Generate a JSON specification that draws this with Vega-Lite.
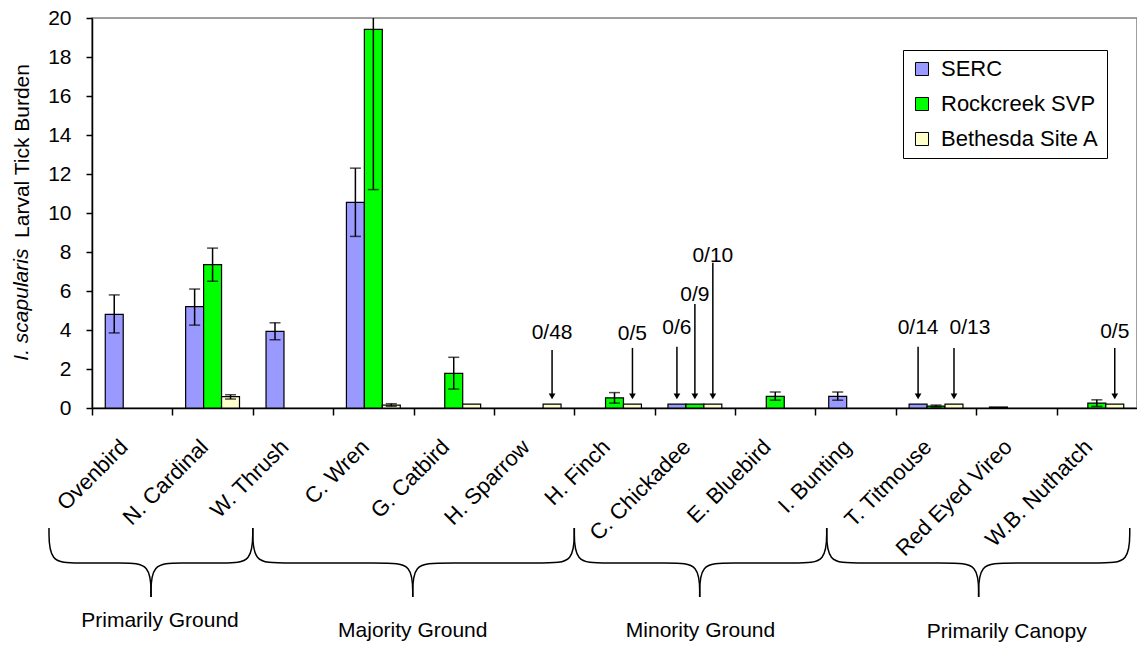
{
  "$schema": "https://vega.github.io/schema/vega-lite/v6.json",
  "width": 1045,
  "height": 390,
  "autosize": {"type": "none"},
  "padding": {"left": 92, "top": 18, "right": 0, "bottom": 238},
  "background": "white",
  "config": {
    "font": "Liberation Sans",
    "view": {"stroke": "#808080", "strokeWidth": 1.5},
    "axis": {"grid": false, "domainColor": "black", "tickColor": "black", "labelColor": "black", "titleColor": "black", "titleFontWeight": "normal", "domainWidth": 1.5, "tickWidth": 1.5, "labelOverlap": false}
  },
  "datasets": {
    "birds": [
      {"species": "Ovenbird", "site": "SERC", "value": 4.8, "lo": 3.85, "hi": 5.8},
      {"species": "N. Cardinal", "site": "SERC", "value": 5.2, "lo": 4.25, "hi": 6.1},
      {"species": "N. Cardinal", "site": "Rockcreek SVP", "value": 7.35, "lo": 6.5, "hi": 8.2},
      {"species": "N. Cardinal", "site": "Bethesda Site A", "value": 0.58, "lo": 0.46, "hi": 0.68},
      {"species": "W. Thrush", "site": "SERC", "value": 3.93, "lo": 3.5, "hi": 4.37},
      {"species": "C. Wren", "site": "SERC", "value": 10.55, "lo": 8.8, "hi": 12.3},
      {"species": "C. Wren", "site": "Rockcreek SVP", "value": 19.42, "lo": 11.2, "hi": 27.6},
      {"species": "C. Wren", "site": "Bethesda Site A", "value": 0.15, "lo": 0.09, "hi": 0.22},
      {"species": "G. Catbird", "site": "Rockcreek SVP", "value": 1.78, "lo": 0.97, "hi": 2.6},
      {"species": "G. Catbird", "site": "Bethesda Site A", "value": 0.2, "lo": null, "hi": null},
      {"species": "H. Sparrow", "site": "Bethesda Site A", "value": 0.2, "lo": null, "hi": null},
      {"species": "H. Finch", "site": "Rockcreek SVP", "value": 0.52, "lo": 0.25, "hi": 0.79},
      {"species": "H. Finch", "site": "Bethesda Site A", "value": 0.2, "lo": null, "hi": null},
      {"species": "C. Chickadee", "site": "SERC", "value": 0.2, "lo": null, "hi": null},
      {"species": "C. Chickadee", "site": "Rockcreek SVP", "value": 0.2, "lo": null, "hi": null},
      {"species": "C. Chickadee", "site": "Bethesda Site A", "value": 0.2, "lo": null, "hi": null},
      {"species": "E. Bluebird", "site": "Rockcreek SVP", "value": 0.6, "lo": 0.4, "hi": 0.82},
      {"species": "I. Bunting", "site": "SERC", "value": 0.6, "lo": 0.4, "hi": 0.82},
      {"species": "T. Titmouse", "site": "SERC", "value": 0.2, "lo": null, "hi": null},
      {"species": "T. Titmouse", "site": "Rockcreek SVP", "value": 0.1, "lo": 0.05, "hi": 0.15},
      {"species": "T. Titmouse", "site": "Bethesda Site A", "value": 0.2, "lo": null, "hi": null},
      {"species": "Red Eyed Vireo", "site": "SERC", "value": 0.05, "lo": null, "hi": null},
      {"species": "W.B. Nuthatch", "site": "Rockcreek SVP", "value": 0.25, "lo": 0.08, "hi": 0.42},
      {"species": "W.B. Nuthatch", "site": "Bethesda Site A", "value": 0.2, "lo": null, "hi": null}
    ],
    "notes": [
      {"species": "H. Sparrow", "site": "Bethesda Site A", "label": "0/48", "top": 2.97, "ty": 3.85},
      {"species": "H. Finch", "site": "Bethesda Site A", "label": "0/5", "top": 3.08, "ty": 3.8},
      {"species": "C. Chickadee", "site": "SERC", "label": "0/6", "top": 3.14, "ty": 4.1},
      {"species": "C. Chickadee", "site": "Rockcreek SVP", "label": "0/9", "top": 5.33, "ty": 5.8},
      {"species": "C. Chickadee", "site": "Bethesda Site A", "label": "0/10", "top": 7.45, "ty": 7.8},
      {"species": "T. Titmouse", "site": "SERC", "label": "0/14", "top": 3.14, "ty": 4.1},
      {"species": "T. Titmouse", "site": "Bethesda Site A", "label": "0/13", "top": 3.08, "ty": 4.1},
      {"species": "W.B. Nuthatch", "site": "Bethesda Site A", "label": "0/5 ", "top": 3.08, "ty": 3.9}
    ],
    "braces": [
      {"part": "b1L", "i": 0, "bx": -0.535, "by": -6.15},
      {"part": "b1L", "i": 1, "bx": -0.535, "by": -7.95},
      {"part": "b1L", "i": 2, "bx": -0.185, "by": -7.95},
      {"part": "b1L", "i": 3, "bx": 0.384, "by": -7.95},
      {"part": "b1L", "i": 4, "bx": 0.734, "by": -7.95},
      {"part": "b1L", "i": 5, "bx": 0.734, "by": -9.69},
      {"part": "b1R", "i": 0, "bx": 2.0, "by": -6.15},
      {"part": "b1R", "i": 1, "bx": 2.0, "by": -7.95},
      {"part": "b1R", "i": 2, "bx": 1.65, "by": -7.95},
      {"part": "b1R", "i": 3, "bx": 1.084, "by": -7.95},
      {"part": "b1R", "i": 4, "bx": 0.734, "by": -7.95},
      {"part": "b1R", "i": 5, "bx": 0.734, "by": -9.69},
      {"part": "b2L", "i": 0, "bx": 2.0, "by": -6.15},
      {"part": "b2L", "i": 1, "bx": 2.0, "by": -7.95},
      {"part": "b2L", "i": 2, "bx": 2.35, "by": -7.95},
      {"part": "b2L", "i": 3, "bx": 3.64, "by": -7.95},
      {"part": "b2L", "i": 4, "bx": 3.99, "by": -7.95},
      {"part": "b2L", "i": 5, "bx": 3.99, "by": -9.69},
      {"part": "b2R", "i": 0, "bx": 6.0, "by": -6.15},
      {"part": "b2R", "i": 1, "bx": 6.0, "by": -7.95},
      {"part": "b2R", "i": 2, "bx": 5.65, "by": -7.95},
      {"part": "b2R", "i": 3, "bx": 4.34, "by": -7.95},
      {"part": "b2R", "i": 4, "bx": 3.99, "by": -7.95},
      {"part": "b2R", "i": 5, "bx": 3.99, "by": -9.69},
      {"part": "b3L", "i": 0, "bx": 6.0, "by": -6.15},
      {"part": "b3L", "i": 1, "bx": 6.0, "by": -7.95},
      {"part": "b3L", "i": 2, "bx": 6.35, "by": -7.95},
      {"part": "b3L", "i": 3, "bx": 7.21, "by": -7.95},
      {"part": "b3L", "i": 4, "bx": 7.56, "by": -7.95},
      {"part": "b3L", "i": 5, "bx": 7.56, "by": -9.69},
      {"part": "b3R", "i": 0, "bx": 9.14, "by": -6.15},
      {"part": "b3R", "i": 1, "bx": 9.14, "by": -7.95},
      {"part": "b3R", "i": 2, "bx": 8.79, "by": -7.95},
      {"part": "b3R", "i": 3, "bx": 7.91, "by": -7.95},
      {"part": "b3R", "i": 4, "bx": 7.56, "by": -7.95},
      {"part": "b3R", "i": 5, "bx": 7.56, "by": -9.69},
      {"part": "b4L", "i": 0, "bx": 9.14, "by": -6.15},
      {"part": "b4L", "i": 1, "bx": 9.14, "by": -7.95},
      {"part": "b4L", "i": 2, "bx": 9.49, "by": -7.95},
      {"part": "b4L", "i": 3, "bx": 10.68, "by": -7.95},
      {"part": "b4L", "i": 4, "bx": 11.03, "by": -7.95},
      {"part": "b4L", "i": 5, "bx": 11.03, "by": -9.69},
      {"part": "b4R", "i": 0, "bx": 12.91, "by": -6.15},
      {"part": "b4R", "i": 1, "bx": 12.91, "by": -7.95},
      {"part": "b4R", "i": 2, "bx": 12.56, "by": -7.95},
      {"part": "b4R", "i": 3, "bx": 11.38, "by": -7.95},
      {"part": "b4R", "i": 4, "bx": 11.03, "by": -7.95},
      {"part": "b4R", "i": 5, "bx": 11.03, "by": -9.69}
    ],
    "groups": [
      {"group": "Primarily Ground", "gx": 0.846, "gy": -10.92},
      {"group": "Majority Ground", "gx": 3.99, "gy": -11.44},
      {"group": "Minority Ground", "gx": 7.57, "gy": -11.44},
      {"group": "Primarily Canopy", "gx": 11.38, "gy": -11.49}
    ],
    "ytitle": [
      {"t": "I. scapularis", "tx": -0.871, "ty": 5.3}
    ]
  },
  "layer": [
    {
      "layer": [
        {
          "data": {"name": "birds"},
          "mark": {"type": "bar", "stroke": "black", "strokeWidth": 1.2},
          "encoding": {
            "x": {
              "field": "species", "type": "nominal",
              "scale": {"domain": ["Ovenbird", "N. Cardinal", "W. Thrush", "C. Wren", "G. Catbird", "H. Sparrow", "H. Finch", "C. Chickadee", "E. Bluebird", "I. Bunting", "T. Titmouse", "Red Eyed Vireo", "W.B. Nuthatch"], "paddingInner": 0.33, "paddingOuter": 0.165},
              "axis": {"title": null, "labelAngle": -45, "labelAlign": "right", "labelBaseline": "middle", "labelFontSize": 22, "ticks": false, "labelPadding": 35, "labelOffset": -8, "labelOverlap": false, "labelBound": false}
            },
            "xOffset": {"field": "site", "type": "nominal", "scale": {"domain": ["SERC", "Rockcreek SVP", "Bethesda Site A"]}},
            "y": {
              "field": "value", "type": "quantitative",
              "scale": {"domain": [0, 20]},
              "axis": {"values": [0, 2, 4, 6, 8, 10, 12, 14, 16, 18, 20], "tickCount": 30, "format": "d", "labelOverlap": false, "title": "Larval Tick Burden", "titleFontSize": 21, "titleX": -70, "titleY": 132.5, "titleAngle": 270, "titleAlign": "center", "titleBaseline": "middle", "labelFontSize": 21, "tickSize": 6, "labelPadding": 15}
            },
            "color": {
              "field": "site", "type": "nominal",
              "scale": {"domain": ["SERC", "Rockcreek SVP", "Bethesda Site A"], "range": ["#9999FF", "#00FF00", "#FFFFCC"]},
              "legend": {"title": null, "orient": "none", "legendX": 811, "legendY": 32, "fillColor": "white", "strokeColor": "black", "padding": 8, "labelFontSize": 22, "labelLimit": 300, "symbolType": "square", "symbolSize": 170, "symbolStrokeColor": "black", "symbolStrokeWidth": 1, "symbolOpacity": 1, "rowPadding": 13, "labelOffset": 8}
            }
          }
        },
        {
          "data": {"name": "birds"},
          "transform": [{"filter": "isValid(datum.lo)"}],
          "mark": {"type": "rule", "color": "black", "strokeWidth": 1.5, "clip": true},
          "encoding": {
            "x": {"field": "species", "type": "nominal"},
            "xOffset": {"field": "site", "type": "nominal"},
            "y": {"field": "lo", "type": "quantitative"},
            "y2": {"field": "hi"}
          }
        },
        {
          "data": {"name": "birds"},
          "transform": [{"filter": "isValid(datum.lo)"}],
          "mark": {"type": "tick", "color": "black", "thickness": 1.5, "size": 11, "clip": true},
          "encoding": {
            "x": {"field": "species", "type": "nominal"},
            "xOffset": {"field": "site", "type": "nominal"},
            "y": {"field": "hi", "type": "quantitative"}
          }
        },
        {
          "data": {"name": "birds"},
          "transform": [{"filter": "isValid(datum.lo)"}],
          "mark": {"type": "tick", "color": "black", "thickness": 1.5, "size": 11, "clip": true},
          "encoding": {
            "x": {"field": "species", "type": "nominal"},
            "xOffset": {"field": "site", "type": "nominal"},
            "y": {"field": "lo", "type": "quantitative"}
          }
        },
        {
          "data": {"name": "notes"},
          "mark": {"type": "rule", "color": "black", "strokeWidth": 1.5},
          "encoding": {
            "x": {"field": "species", "type": "nominal"},
            "xOffset": {"field": "site", "type": "nominal"},
            "y": {"field": "top", "type": "quantitative"},
            "y2": {"datum": 0.6}
          }
        },
        {
          "data": {"name": "notes"},
          "mark": {"type": "point", "shape": "triangle-down", "filled": true, "color": "black", "size": 45, "opacity": 1},
          "encoding": {
            "x": {"field": "species", "type": "nominal"},
            "xOffset": {"field": "site", "type": "nominal"},
            "y": {"datum": 0.6}
          }
        },
        {
          "data": {"name": "notes"},
          "transform": [{"filter": "datum.label != '0/13'"}],
          "mark": {"type": "text", "fontSize": 21, "baseline": "middle", "align": "center", "color": "black"},
          "encoding": {
            "x": {"field": "species", "type": "nominal"},
            "xOffset": {"field": "site", "type": "nominal"},
            "y": {"field": "ty", "type": "quantitative"},
            "text": {"field": "label"}
          }
        },
        {
          "data": {"name": "notes"},
          "transform": [{"filter": "datum.label == '0/13'"}],
          "mark": {"type": "text", "fontSize": 21, "baseline": "middle", "align": "center", "color": "black", "dx": 16},
          "encoding": {
            "x": {"field": "species", "type": "nominal"},
            "xOffset": {"field": "site", "type": "nominal"},
            "y": {"field": "ty", "type": "quantitative"},
            "text": {"field": "label"}
          }
        }
      ]
    },
    {
      "layer": [
        {
          "data": {"name": "braces"},
          "mark": {"type": "line", "interpolate": "basis", "color": "black", "strokeWidth": 1.5},
          "encoding": {
            "x": {"field": "bx", "type": "quantitative", "scale": {"domain": [0, 13], "nice": false, "zero": false},
              "axis": {"orient": "bottom", "values": [0, 1, 2, 3, 4, 5, 6, 7, 8, 9, 10, 11, 12], "tickCount": 30, "labels": false, "domain": false, "ticks": true, "tickSize": 7, "title": null, "grid": false}},
            "y": {"field": "by", "type": "quantitative", "scale": {"domain": [0, 20]}},
            "detail": {"field": "part"},
            "order": {"field": "i"}
          }
        },
        {
          "data": {"name": "groups"},
          "mark": {"type": "text", "fontSize": 21, "baseline": "middle", "align": "center", "color": "black"},
          "encoding": {
            "x": {"field": "gx", "type": "quantitative"},
            "y": {"field": "gy", "type": "quantitative"},
            "text": {"field": "group"}
          }
        },
        {
          "data": {"name": "ytitle"},
          "mark": {"type": "text", "fontSize": 21, "fontStyle": "italic", "angle": 270, "baseline": "middle", "align": "center", "color": "black"},
          "encoding": {
            "x": {"field": "tx", "type": "quantitative"},
            "y": {"field": "ty", "type": "quantitative"},
            "text": {"field": "t"}
          }
        }
      ]
    }
  ],
  "resolve": {"scale": {"x": "independent"}}
}
